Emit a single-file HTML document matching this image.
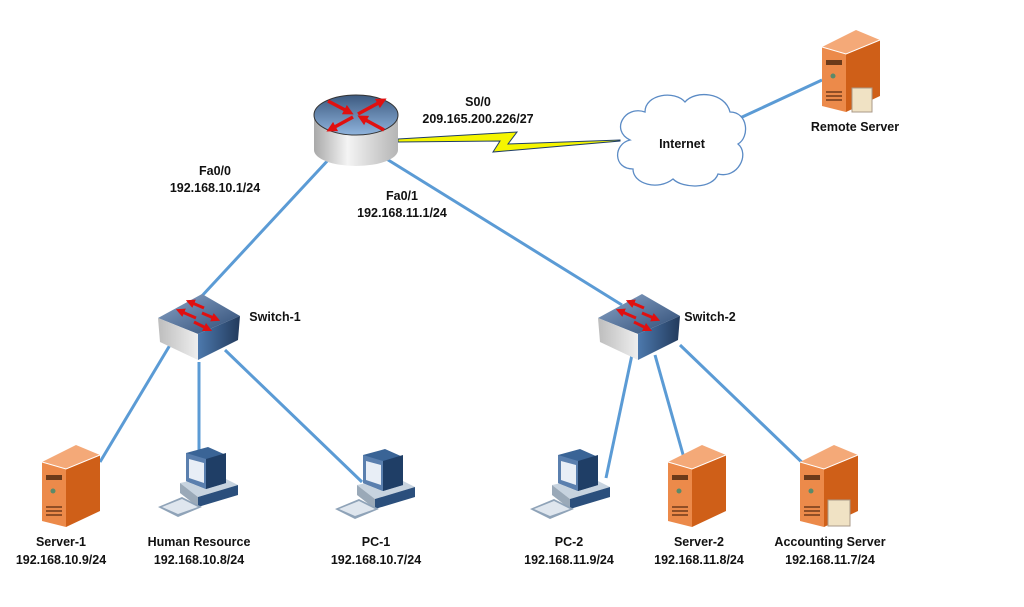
<!DOCTYPE html>
<html><head><meta charset="utf-8"><style>
body{margin:0;background:#fff;width:1024px;height:602px;overflow:hidden}
text{font-family:"Liberation Sans",sans-serif;font-weight:bold;font-size:12.5px;fill:#111}
</style></head><body>
<svg width="1024" height="602" viewBox="0 0 1024 602" xmlns="http://www.w3.org/2000/svg">
<defs>
<marker id="ah" viewBox="0 0 10 10" refX="5" refY="5" markerWidth="3" markerHeight="3" orient="auto"><path d="M0 0L10 5L0 10z" fill="#e01010"/></marker>
<linearGradient id="rt" x1="0" y1="0" x2="0" y2="1"><stop offset="0" stop-color="#3d5a80"/><stop offset="1" stop-color="#8fb4dd"/></linearGradient>
<linearGradient id="rb" x1="0" y1="0" x2="1" y2="0"><stop offset="0" stop-color="#a9a9a9"/><stop offset=".4" stop-color="#f4f4f4"/><stop offset="1" stop-color="#b5b5b5"/></linearGradient>
<linearGradient id="st" x1="0" y1="0" x2="1" y2="1"><stop offset="0" stop-color="#8aa5c8"/><stop offset="1" stop-color="#2f4c75"/></linearGradient>
<linearGradient id="sf" x1="0" y1="0" x2="1" y2="0"><stop offset="0" stop-color="#bdbdbd"/><stop offset="1" stop-color="#eeeeee"/></linearGradient>
<linearGradient id="ss" x1="0" y1="0" x2="1" y2="0"><stop offset="0" stop-color="#4d79ad"/><stop offset="1" stop-color="#223a5c"/></linearGradient>
<g id="srv">
<polygon points="0,17 34,0 58,10 24,24" fill="#f4a978"/>
<polygon points="0,17 24,24 24,82 0,76" fill="#ec8a4a"/>
<polygon points="24,24 58,10 58,66 24,82" fill="#cf5f18"/>
<polyline points="0,17 24,24 58,10" fill="none" stroke="#fff" stroke-width="1"/>
<rect x="4" y="30" width="16" height="5" fill="#6b3a1a"/>
<circle cx="11" cy="46" r="2.5" fill="#5a8a6a"/>
<path d="M4 62h16M4 66h16M4 70h16" stroke="#5a2a10" stroke-width="1.2"/>
</g>
<g id="pc">
<polygon points="22,38 60,30 80,40 40,52" fill="#c7d3df"/>
<polygon points="40,52 80,40 80,50 40,62" fill="#2b4f7c"/>
<polygon points="22,38 40,52 40,62 22,48" fill="#9aa9b8"/>
<polygon points="28,8 50,2 68,10 68,38 48,44 28,36" fill="#3a6496"/>
<polygon points="28,8 48,14 48,44 28,36" fill="#5a7fae"/>
<polygon points="31,14 46,18 46,38 31,33" fill="#e8eef6"/>
<polygon points="48,14 68,8 68,38 48,44" fill="#1f3e66"/>
<polygon points="0,62 24,52 44,62 20,72" fill="#8fa3b8"/>
<polygon points="4,62 24,54 40,62 20,69" fill="#dfe6ee"/>
</g>
<g id="sw">
<polygon points="0,24 44,0 82,22 40,40" fill="url(#st)"/>
<polygon points="0,24 40,40 40,66 2,48" fill="url(#sf)"/>
<polygon points="40,40 82,22 80,46 40,66" fill="url(#ss)"/>
<g stroke="#e01010" stroke-width="3" marker-end="url(#ah)">
<path d="M46 14L32 8"/><path d="M38 24L22 17"/>
<path d="M44 19L58 25"/><path d="M36 28L50 35"/>
</g>
</g>
</defs>
<g stroke="#5b9bd5" stroke-width="3" fill="none">
<line x1="330" y1="158" x2="200" y2="298"/>
<line x1="385" y1="158" x2="622" y2="305"/>
<line x1="740" y1="118" x2="822" y2="80"/>
<line x1="170" y1="345" x2="100" y2="462"/>
<line x1="199" y1="362" x2="199" y2="452"/>
<line x1="225" y1="350" x2="362" y2="482"/>
<line x1="633" y1="350" x2="606" y2="478"/>
<line x1="655" y1="355" x2="684" y2="458"/>
<line x1="680" y1="345" x2="812" y2="472"/>
</g>
<polygon points="398,139 517,132 508,144 620,140 620,141 493,152 500,141 398,142" fill="#f5f500" stroke="#1f3e66" stroke-width="1"/>
<path d="M314 115 v35 a42 16 0 0 0 84 0 v-35z" fill="url(#rb)"/>
<ellipse cx="356" cy="115" rx="42" ry="20" fill="url(#rt)" stroke="#333" stroke-width="1"/>
<g stroke="#e01010" stroke-width="3.5" marker-end="url(#ah)">
<path d="M358 114L382 101"/><path d="M353 117L331 129"/>
<path d="M328 101L349 112"/><path d="M384 130L362 118"/>
</g>
<path d="M630 140 c-20 -10 -5 -35 15 -28 c0 -18 30 -22 40 -10 c10 -12 40 -10 45 10 c18 0 20 25 8 32 c12 10 0 35 -20 30 c-5 15 -35 15 -45 5 c-15 12 -40 5 -40 -10 c-20 0 -20 -25 -3 -29z" fill="#fff" stroke="#5b8bc5" stroke-width="1.3"/>
<use href="#sw" x="158" y="294"/>
<use href="#sw" x="598" y="294"/>
<use href="#srv" x="42" y="445"/>
<use href="#srv" x="668" y="445"/>
<use href="#srv" x="800" y="445"/>
<use href="#srv" x="822" y="30"/>
<rect x="828" y="500" width="22" height="26" fill="#f0e2c4" stroke="#a98"/>
<rect x="852" y="88" width="20" height="24" fill="#f0e2c4" stroke="#a98"/>
<use href="#pc" x="158" y="445"/>
<use href="#pc" x="335" y="447"/>
<use href="#pc" x="530" y="447"/>
<g text-anchor="middle">
<text x="478" y="106">S0/0</text>
<text x="478" y="123">209.165.200.226/27</text>
<text x="682" y="148">Internet</text>
<text x="855" y="131">Remote Server</text>
<text x="215" y="175">Fa0/0</text>
<text x="215" y="192">192.168.10.1/24</text>
<text x="402" y="200">Fa0/1</text>
<text x="402" y="217">192.168.11.1/24</text>
<text x="275" y="321">Switch-1</text>
<text x="710" y="321">Switch-2</text>
<text x="61" y="546">Server-1</text>
<text x="61" y="564">192.168.10.9/24</text>
<text x="199" y="546">Human Resource</text>
<text x="199" y="564">192.168.10.8/24</text>
<text x="376" y="546">PC-1</text>
<text x="376" y="564">192.168.10.7/24</text>
<text x="569" y="546">PC-2</text>
<text x="569" y="564">192.168.11.9/24</text>
<text x="699" y="546">Server-2</text>
<text x="699" y="564">192.168.11.8/24</text>
<text x="830" y="546">Accounting Server</text>
<text x="830" y="564">192.168.11.7/24</text>
</g>
</svg>
</body></html>
